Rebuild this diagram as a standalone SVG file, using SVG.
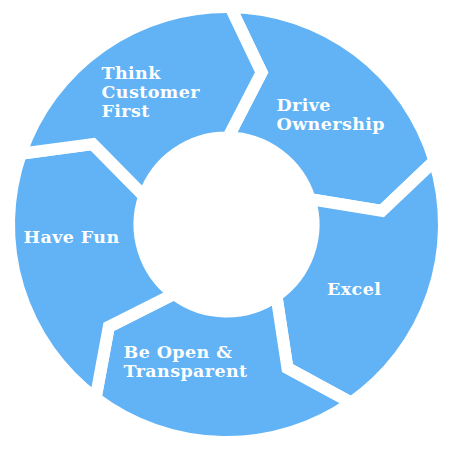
<svg xmlns="http://www.w3.org/2000/svg" width="453" height="450" viewBox="0 0 453 450">
<style>
.seg{fill:#61B3F5;stroke:#FFFFFF;stroke-width:12;stroke-linejoin:miter;stroke-miterlimit:10}
.lbl{font-family:"DejaVu Serif","Liberation Serif",serif;font-weight:bold;font-size:17.5px;fill:#FFFFFF;letter-spacing:0.4px}
</style>
<rect width="453" height="450" fill="#FFFFFF"/>
<g id="drive-ownership">
<path class="seg" d="M230.30,7.03 A217.5,217.5 0 0 1 434.50,160.91 L381.91,210.90 L309.70,199.06 A87,87 0 0 0 228.02,137.51 L261.59,72.50 Z"/>
<text class="lbl" x="276.5" y="110.5">Drive</text>
<text class="lbl" x="276.5" y="129.5">Ownership</text>
</g>
<g id="excel">
<path class="seg" d="M434.50,160.91 A217.5,217.5 0 0 1 351.25,402.66 L287.45,368.10 L276.40,295.77 A87,87 0 0 0 309.70,199.06 L381.91,210.90 Z"/>
<text class="lbl" x="327" y="294.5">Excel</text>
</g>
<g id="be-open-transparent">
<path class="seg" d="M351.25,402.66 A217.5,217.5 0 0 1 95.61,398.20 L108.77,326.85 L174.14,293.98 A87,87 0 0 0 276.40,295.77 L287.45,368.10 Z"/>
<text class="lbl" x="123.5" y="357.5">Be Open &amp;</text>
<text class="lbl" x="123.5" y="376.5">Transparent</text>
</g>
<g id="have-fun">
<path class="seg" d="M95.61,398.20 A217.5,217.5 0 0 1 20.85,153.69 L92.78,144.15 L144.24,196.18 A87,87 0 0 0 174.14,293.98 L108.77,326.85 Z"/>
<text class="lbl" x="23.5" y="242.5">Have Fun</text>
</g>
<g id="think-customer-first">
<path class="seg" d="M20.85,153.69 A217.5,217.5 0 0 1 230.30,7.03 L261.59,72.50 L228.02,137.51 A87,87 0 0 0 144.24,196.18 L92.78,144.15 Z"/>
<text class="lbl" x="101.5" y="79">Think</text>
<text class="lbl" x="101.5" y="98">Customer</text>
<text class="lbl" x="101.5" y="117">First</text>
</g>
<g id="connectors"></g>
</svg>
